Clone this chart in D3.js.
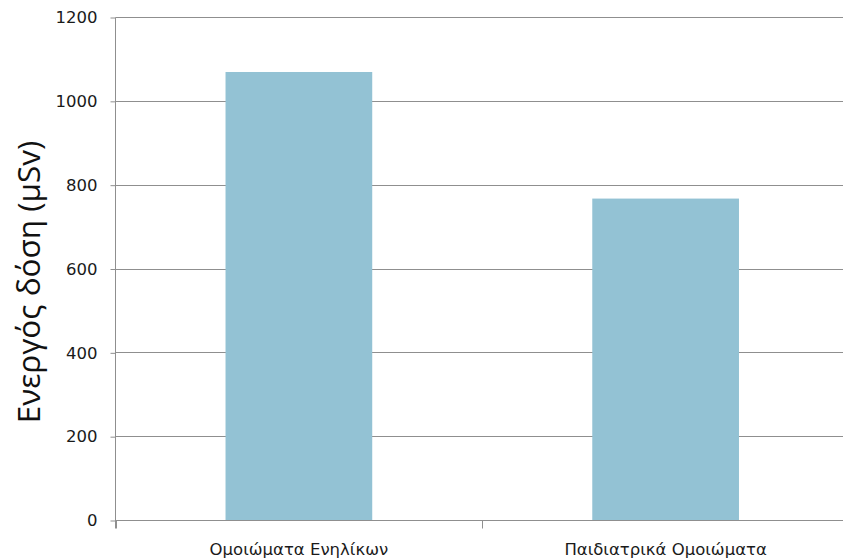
<!DOCTYPE html>
<html>
<head>
<meta charset="utf-8">
<script src="https://cdn.jsdelivr.net/npm/d3@7"></script>
<style>
  html, body { margin: 0; padding: 0; background: #fff; overflow: hidden; }
  svg { display: block; }
</style>
</head>
<body>
<svg id="chart" width="843" height="559"></svg>
<script>
// Effective dose per phantom type
const categories = ["Ομοιώματα Ενηλίκων", "Παιδιατρικά Ομοιώματα"];
const doses = [1070, 768];
const yTicks = [0, 200, 400, 600, 800, 1000, 1200];
const yTitle = "Ενεργός δόση (μSv)";

const svg = d3.select("#chart");
const plotLeft = 115.5, plotRight = 849, plotTop = 17.5, plotBottom = 520.5;

const x = d3.scaleBand().domain(categories).range([plotLeft, plotRight]).paddingInner(0.6).paddingOuter(0.3);
const y = d3.scaleLinear().domain([0, 1200]).range([plotBottom, plotTop]);

// horizontal gridlines
svg.append("g").selectAll("line").data(yTicks.slice(1)).join("line")
  .attr("x1", plotLeft).attr("x2", plotRight)
  .attr("y1", d => Math.floor(y(d)) + 0.5).attr("y2", d => Math.floor(y(d)) + 0.5)
  .attr("stroke", "#8f8f8f").attr("stroke-width", 1);

// bars
svg.append("g").selectAll("rect").data(categories).join("rect")
  .attr("x", d => x(d))
  .attr("width", x.bandwidth())
  .attr("y", (d, i) => y(doses[i]))
  .attr("height", (d, i) => y(0) - y(doses[i]))
  .attr("fill", "#93c2d4");

// y axis
const yAxis = svg.append("g")
  .attr("transform", `translate(${plotLeft},0)`)
  .call(d3.axisLeft(y).tickValues(yTicks).tickSize(5).tickPadding(13).tickFormat(d3.format("d")));
yAxis.select(".domain").attr("stroke", "#8f8f8f").attr("d", `M0,${plotTop}V${plotBottom + 8}`);
yAxis.selectAll(".tick line").attr("stroke", "#8f8f8f");
yAxis.selectAll(".tick text")
  .attr("font-family", "DejaVu Sans, Verdana, sans-serif")
  .attr("font-size", 16.5).attr("fill", "#1a1a1a");

// x axis with boundary tick marks between categories
const xAxis = svg.append("g").attr("transform", `translate(0,${plotBottom})`);
xAxis.append("line").attr("x1", plotLeft).attr("x2", plotRight).attr("stroke", "#8f8f8f");
const bounds = d3.range(categories.length + 1).map(i => plotLeft + i * (plotRight - plotLeft) / categories.length);
xAxis.selectAll("line.bd").data(bounds).join("line").attr("class", "bd")
  .attr("x1", d => Math.round(d) + 0.5).attr("x2", d => Math.round(d) + 0.5)
  .attr("y1", 0).attr("y2", 8).attr("stroke", "#8f8f8f");
xAxis.selectAll("text").data(categories).join("text")
  .attr("x", d => x(d) + x.bandwidth() / 2)
  .attr("y", 34.5)
  .attr("text-anchor", "middle")
  .attr("font-family", "DejaVu Sans, Verdana, sans-serif")
  .attr("font-size", 16.5).attr("fill", "#1a1a1a")
  .text(d => d);

// y axis title
svg.append("text")
  .attr("transform", `translate(40,${282}) rotate(-90)`)
  .attr("text-anchor", "middle")
  .attr("font-family", "Open Sans, Noto Sans, sans-serif")
  .attr("font-size", 31.5).attr("fill", "#111")
  .text(yTitle);
</script>
</body>
</html>
